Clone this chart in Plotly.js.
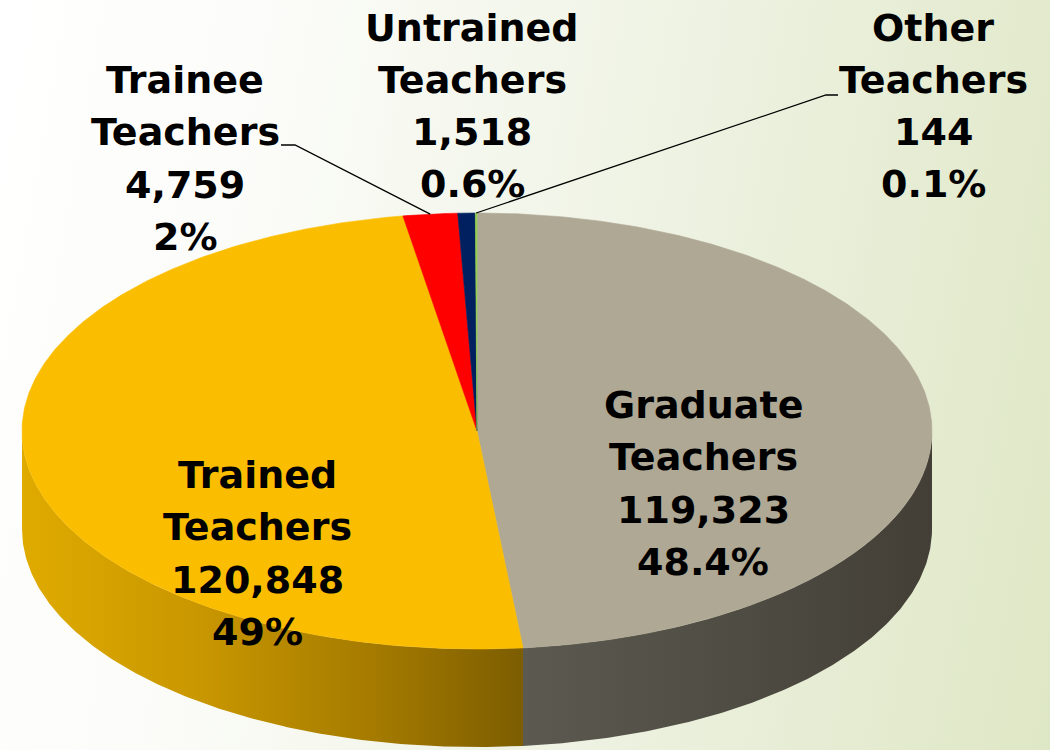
<!DOCTYPE html>
<html>
<head>
<meta charset="utf-8">
<script src="https://cdn.plot.ly/plotly-3.0.1.min.js"></script>
<style>
  html, body { margin: 0; padding: 0; }
  #chart {
    width: 1050px; height: 750px;
    background: linear-gradient(100deg, #ffffff 0%, #fbfcf8 25%, #eef2e2 60%, #dee7c5 100%);
  }
</style>
</head>
<body>
<div id="chart"></div>
<script>
// ---- data ----
const categories = ['Graduate Teachers', 'Trained Teachers', 'Trainee Teachers', 'Untrained Teachers', 'Other Teachers'];
const values = [119323, 120848, 4759, 1518, 144];
const percentLabels = ['48.4%', '49%', '2%', '0.6%', '0.1%'];
const topColors = ['#aea894', '#fbbd00', '#ff0000', '#002060', '#92d050'];
const wallScales = [
  [[0, '#5c5a50'], [1, '#433f37']],
  [[0, '#dfab00'], [0.35, '#c99700'], [0.7, '#a57b00'], [1, '#7c5d00']],
  [[0, '#b00000'], [1, '#800000']],
  [[0, '#001540'], [1, '#001030']],
  [[0, '#6a9a30'], [1, '#507a20']]
];

// ---- geometry of the tilted pie (style, not data) ----
const cx = 477, cy = 431, rx = 455, ry = 218, depth = 98;
function pt(deg, dy) {
  const r = deg * Math.PI / 180;
  return [cx + rx * Math.sin(r), cy - ry * Math.cos(r) + dy];
}
function arc(a1, a2, dy) {
  const n = Math.max(2, Math.ceil((a2 - a1) / 0.5));
  const out = [];
  for (let i = 0; i <= n; i++) out.push(pt(a1 + (a2 - a1) * i / n, dy));
  return out;
}

const total = values.reduce((s, v) => s + v, 0);
const angles = [];
let acc = 0;
values.forEach(v => { const a1 = acc / total * 360; acc += v; angles.push([a1, acc / total * 360]); });

const traces = [];
// side walls (front half: 90..270 deg)
angles.forEach(([a1, a2], i) => {
  const s = Math.max(a1, 90), e = Math.min(a2, 270);
  if (e <= s) return;
  const top = arc(s, e, 0);
  const bot = arc(s, e, depth).reverse();
  const pts = top.concat(bot);
  pts.push(top[0]);
  traces.push({
    type: 'scatter', mode: 'lines', x: pts.map(p => p[0]), y: pts.map(p => p[1]),
    fill: 'toself', line: { width: 0, color: 'rgba(0,0,0,0)' },
    fillgradient: { type: 'horizontal', colorscale: wallScales[i] },
    hoverinfo: 'skip', showlegend: false
  });
});
// top faces
angles.forEach(([a1, a2], i) => {
  const pts = [[cx, cy]].concat(arc(a1, a2, 0));
  pts.push([cx, cy]);
  traces.push({
    type: 'scatter', mode: 'lines', x: pts.map(p => p[0]), y: pts.map(p => p[1]),
    fill: 'toself', fillcolor: topColors[i], line: { width: 0.6, color: topColors[i] },
    hoverinfo: 'skip', showlegend: false, name: categories[i]
  });
});

// leader lines for the outside labels
const midAngle = i => (angles[i][0] + angles[i][1]) / 2;
const trainEnd = pt(midAngle(2), 0);
const otherEnd = pt(midAngle(4), 0);
traces.push({
  type: 'scatter', mode: 'lines', x: [281, 295, trainEnd[0]], y: [145, 145, trainEnd[1]],
  line: { color: '#000000', width: 1.3 }, hoverinfo: 'skip', showlegend: false
});
traces.push({
  type: 'scatter', mode: 'lines', x: [838, 826, otherEnd[0]], y: [95, 95, otherEnd[1]],
  line: { color: '#000000', width: 1.3 }, hoverinfo: 'skip', showlegend: false
});

function labelLines(i) {
  return categories[i].split(' ').concat([values[i].toLocaleString('en-US'), percentLabels[i]]);
}
const labelPos = [[703, 483.5], [257, 553.5], [185, 158.5], [472, 106], [933, 106]];
const lineGap = 52.3;
const annotations = [];
labelPos.forEach((p, i) => {
  const lines = labelLines(i);
  lines.forEach((t, k) => {
    annotations.push({
      x: p[0], y: p[1] + (k - (lines.length - 1) / 2) * lineGap, xref: 'x', yref: 'y',
      text: t, showarrow: false, xanchor: 'center', yanchor: 'middle', align: 'center',
      font: { family: 'DejaVu Sans, sans-serif', size: 38, color: '#000000', weight: 'bold' }
    });
  });
});

const layout = {
  width: 1050, height: 750,
  margin: { l: 0, r: 0, t: 0, b: 0 },
  paper_bgcolor: 'rgba(0,0,0,0)', plot_bgcolor: 'rgba(0,0,0,0)',
  xaxis: { range: [0, 1050], visible: false, fixedrange: true },
  yaxis: { range: [750, 0], visible: false, fixedrange: true },
  annotations: annotations,
  showlegend: false
};
Plotly.newPlot('chart', traces, layout, { displayModeBar: false, staticPlot: true });
</script>
</body>
</html>
